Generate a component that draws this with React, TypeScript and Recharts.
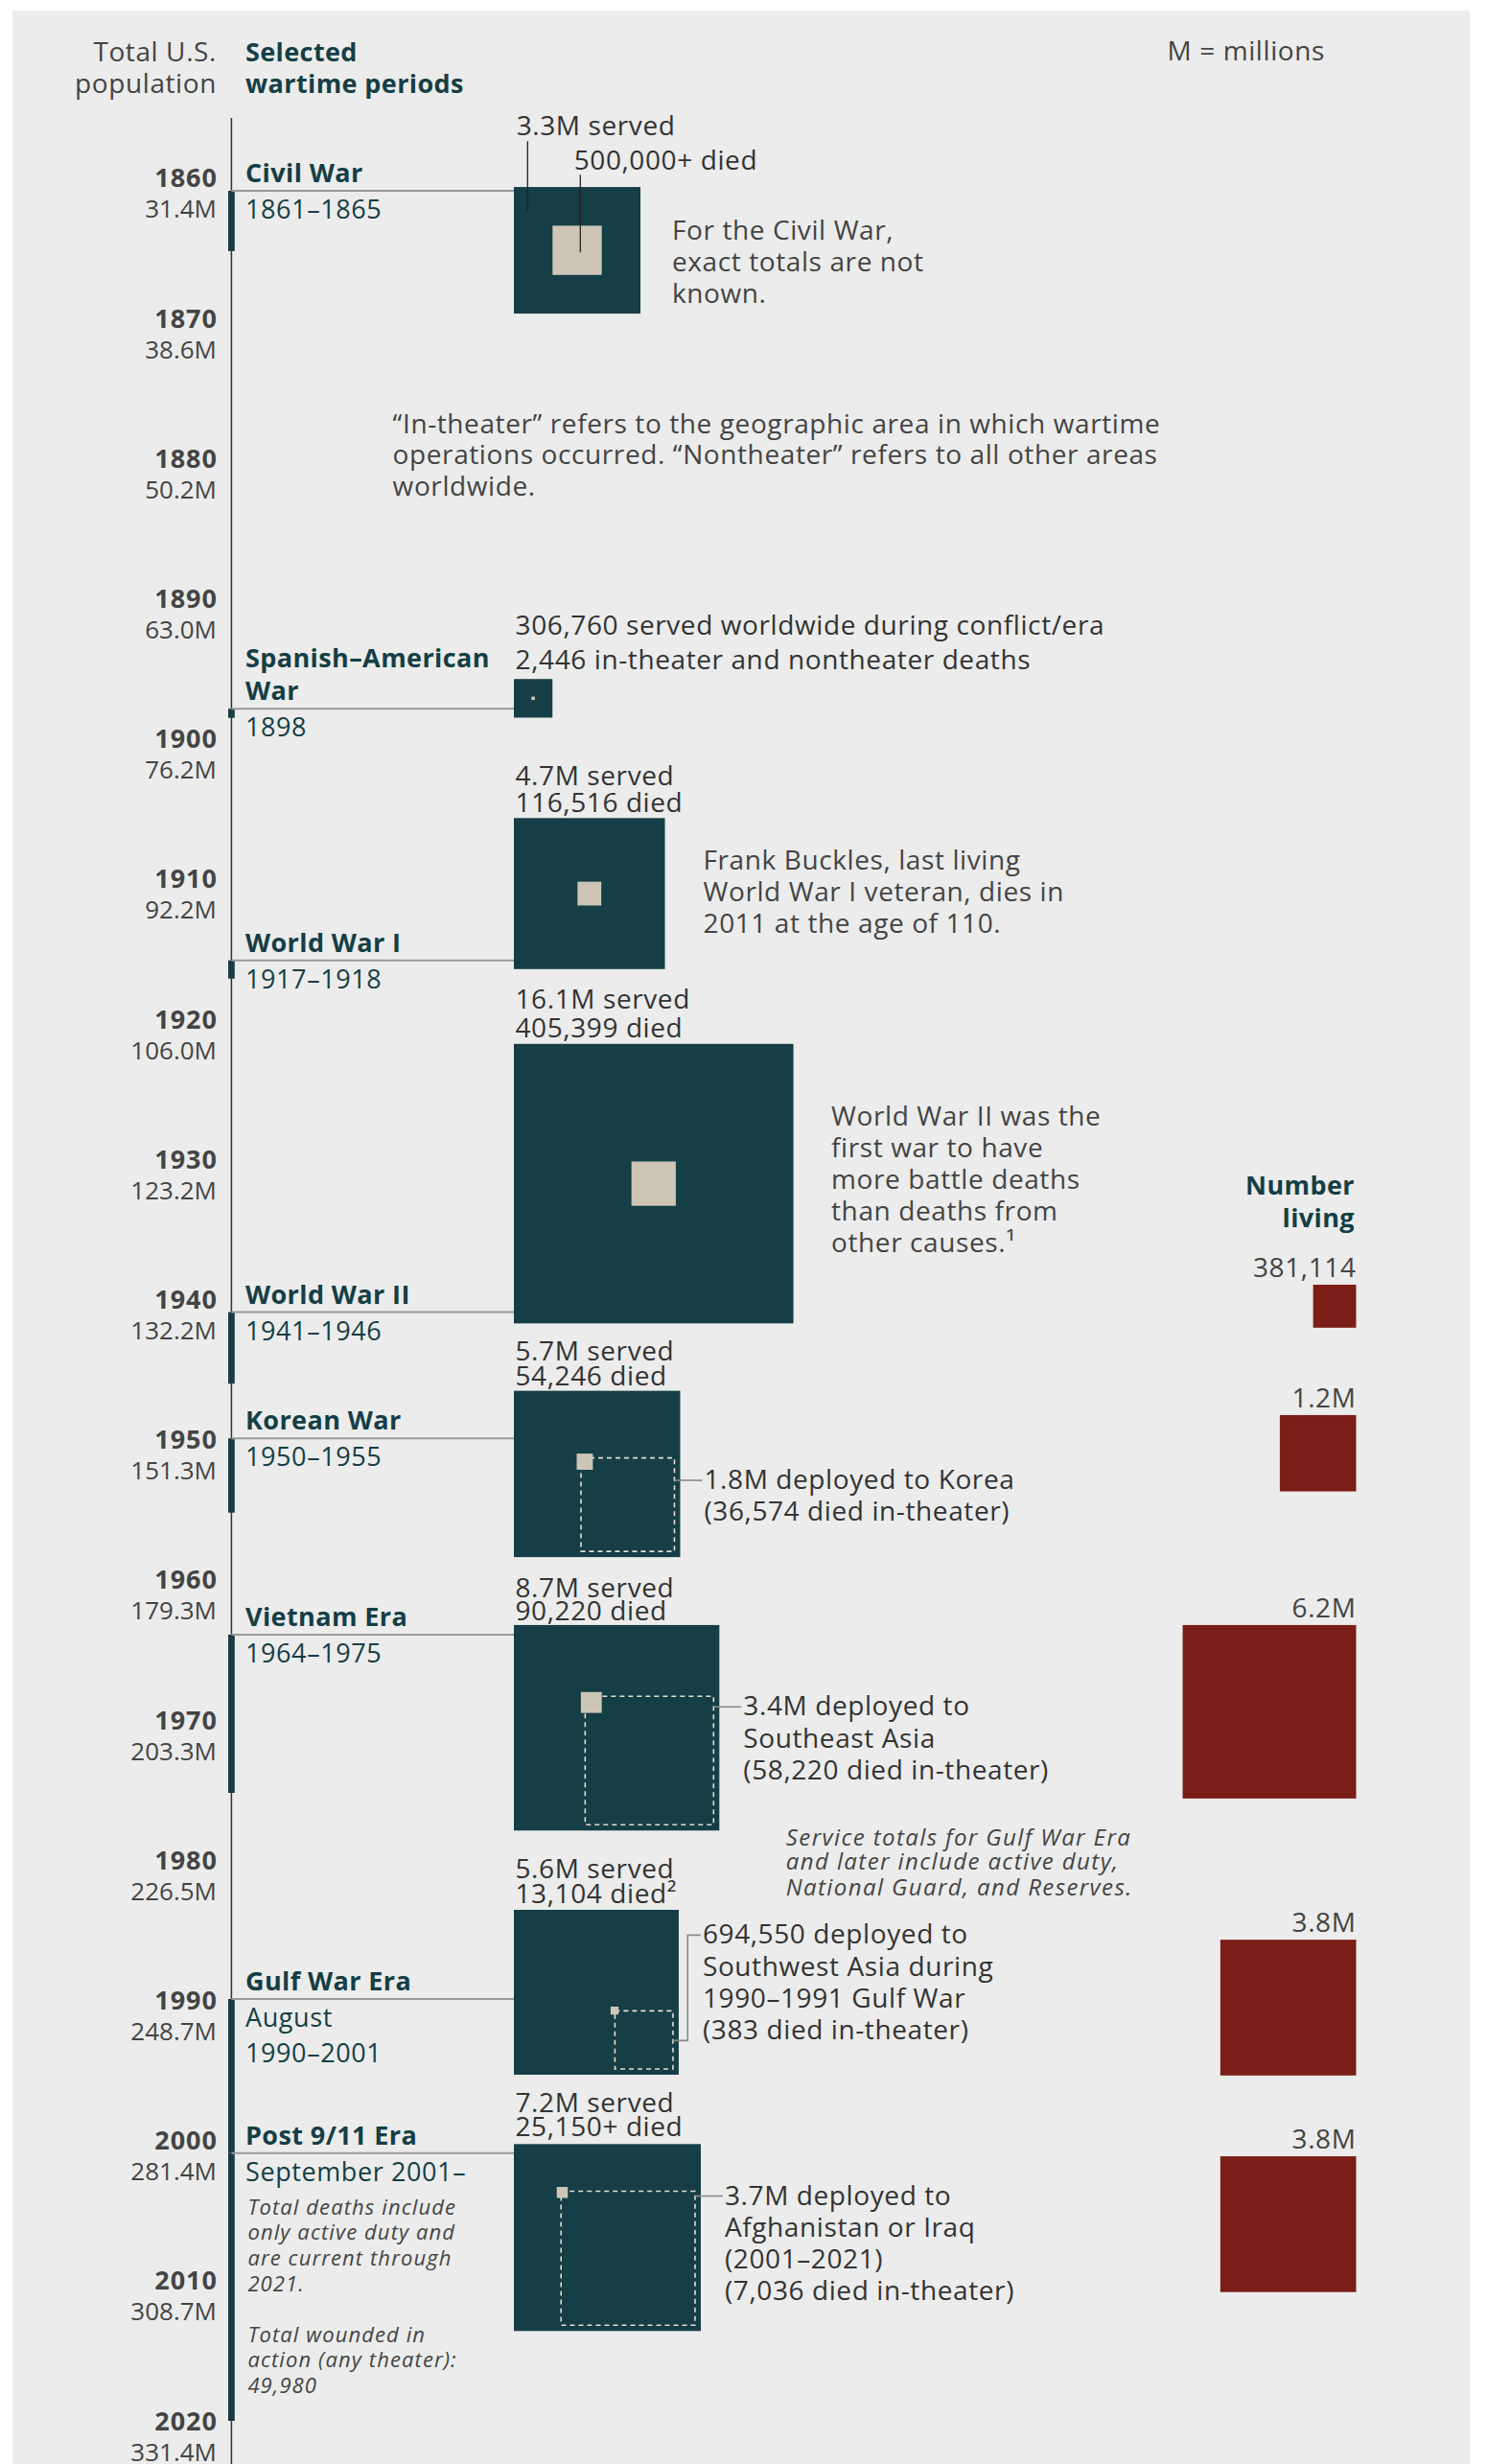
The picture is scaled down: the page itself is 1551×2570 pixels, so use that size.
import React from "react";
import {
    ComposedChart,
    XAxis,
    YAxis,
    Scatter,
    ReferenceLine,
    ReferenceArea
} from "recharts";

// decade ticks + total US population (millions)
const DECADES = [1860, 1870, 1880, 1890, 1900, 1910, 1920, 1930, 1940, 1950, 1960, 1970, 1980, 1990, 2000, 2010, 2020];
const POPULATION = [31.4, 38.6, 50.2, 63.0, 76.2, 92.2, 106.0, 123.2, 132.2, 151.3, 179.3, 203.3, 226.5, 248.7, 281.4, 308.7, 331.4];

// wartime periods
const WAR_NAMES = [["Civil War"], ["Spanish–American", "War"], ["World War I"], ["World War II"], ["Korean War"], ["Vietnam Era"], ["Gulf War Era"], ["Post 9/11 Era"]];
const WAR_PERIODS = [["1861–1865"], ["1898"], ["1917–1918"], ["1941–1946"], ["1950–1955"], ["1964–1975"], ["August", "1990–2001"], ["September 2001–"]];
const PERIOD_START = [1861, 1897.95, 1915.9, 1941, 1950, 1964, 1990, 2001];
const PERIOD_END = [1865.3, 1898.6, 1917.2, 1946.1, 1955.3, 1975.3, 2001, 2020.1];

// millions
const SERVED = [3.3, 0.30676, 4.7, 16.1, 5.7, 8.7, 5.6, 7.2];
const DIED = [0.5, 0.002446, 0.116516, 0.405399, 0.054246, 0.09022, 0.013104, 0.02515];
const DEPLOYED = [0, 0, 0, 0, 1.8, 3.4, 0.69455, 3.7];
const LIVING = [0, 0, 0, 0.381114, 1.2, 6.2, 3.8, 3.8];

const SERVED_TEXT = ["3.3M served", "306,760 served worldwide during conflict/era", "4.7M served", "16.1M served", "5.7M served", "8.7M served", "5.6M served", "7.2M served"];
const DIED_TEXT = ["500,000+ died", "2,446 in-theater and nontheater deaths", "116,516 died", "405,399 died", "54,246 died", "90,220 died", "13,104 died²", "25,150+ died"];
const DEPLOYED_TEXT = [
    [], [], [], [],
    ["1.8M deployed to Korea", "(36,574 died in-theater)"],
    ["3.4M deployed to", "Southeast Asia", "(58,220 died in-theater)"],
    ["694,550 deployed to", "Southwest Asia during", "1990–1991 Gulf War", "(383 died in-theater)"],
    ["3.7M deployed to", "Afghanistan or Iraq", "(2001–2021)", "(7,036 died in-theater)"]
];
const LIVING_TEXT = ["", "", "", "381,114", "1.2M", "6.2M", "3.8M", "3.8M"];
const BOX_NOTES = [
    ["For the Civil War,", "exact totals are not", "known."],
    [],
    ["Frank Buckles, last living", "World War I veteran, dies in", "2011 at the age of 110."],
    ["World War II was the", "first war to have", "more battle deaths", "than deaths from", "other causes.¹"],
    [], [], [], []
];
const PERIOD_NOTES = [
    [], [], [], [], [], [], [],
    ["Total deaths include", "only active duty and", "are current through", "2021.", "", "Total wounded in", "action (any theater):", "49,980"]
];

// ---- layout ----
const CHART_W = 1520;
const CHART_H = 2559;
const PX_PER_YEAR = 14.62;
const Y_TOP = 1860 - 173.4 / PX_PER_YEAR;
const Y_BOTTOM = Y_TOP + CHART_H / PX_PER_YEAR;
const AXIS_X = 228.4;
const BOX_X = 523;
const LIVING_RIGHT = 1401.5;
const SIDE_PER_SQRT_M = 72.66;
const INSET = 6;

// where each square's top edge sits, in axis (year) units
const BOX_TOP_AT = [1860.73, 1895.83, 1905.75, 1921.86, 1946.61, 1963.32, 1983.64, 2000.35];
const LIVING_TOP_AT = [0, 0, 0, 1939.04, 1948.34, 1963.32, 1985.77, 2001.22];
// [served label, died label] offsets from box top-left
const LABEL_POS = [
    [[2.7, -54.3], [62.7, -17.7]],
    [[1.6, -46.6], [1.6, -10.6]],
    [[1.5, -34], [1.5, -6]],
    [[1.5, -37], [1.5, -7]],
    [[1.5, -32], [1.5, -6]],
    [[1.5, -29], [1.5, -5]],
    [[1.5, -33], [1.5, -6.7]],
    [[1.5, -33.3], [1.5, -8.3]]
];
const DEPLOYED_DY = [0, 0, 0, 0, 32.4, 20, -70, 14];
const NOTE_POS = [[33, 54.7], [0, 0], [40, 53.8], [39.5, 85.4], [0, 0], [0, 0], [0, 0], [0, 0]];

const TEAL = "#153e46";
const BEIGE = "#cdc6b7";
const RED = "#7b1e17";
const BG = "#ebeceb";
const INK = "#333333";
const GREY = "#444444";
const FONT = "'Open Sans', 'Noto Sans', sans-serif";

const side = (m: number) => SIDE_PER_SQRT_M * Math.sqrt(m);

const T = ({ x, y, children, size = 28, weight = 400, fill = INK, anchor = "start", italic = false, spacing }: any) => {
    const ls = spacing !== undefined ? spacing : weight >= 700 ? 0.4 : 0.6;
    return (
        <text
            x={x}
            y={y}
            fontSize={size}
            fontWeight={weight}
            fill={fill}
            textAnchor={anchor}
            fontStyle={italic ? "italic" : "normal"}
            fontFamily={FONT}
            letterSpacing={ls}
        >
            {children}
        </text>
    );
};

const YearTick = (props: any) => {
    const { y, payload } = props;
    const k = DECADES.indexOf(payload.value);
    return (
        <g>
            <T x={214} y={y + 11} size={27} weight={700} fill={GREY} anchor="end" spacing={1}>{payload.value}</T>
            <T x={213} y={y + 43} size={26} fill={GREY} anchor="end" spacing={0}>{POPULATION[k].toFixed(1) + "M"}</T>
        </g>
    );
};

const WarLabel = (props: any) => {
    const { cx, cy, payload } = props;
    const i = payload.i;
    const x = cx + 14.6;
    const names = WAR_NAMES[i];
    return (
        <g>
            {names.map((n, k) => (
                <T key={"n" + k} x={x} y={cy - 9 - (names.length - 1 - k) * 34} size={27} weight={700} fill={TEAL}>{n}</T>
            ))}
            {WAR_PERIODS[i].map((p, k) => (
                <T key={"p" + k} x={x} y={cy + 29 + k * 37} size={27} fill={TEAL}>{p}</T>
            ))}
            {PERIOD_NOTES[i].map((p, k) => (
                <T key={"q" + k} x={x + 2.4} y={cy + 64 + k * 26.6} size={22} fill={GREY} italic spacing={1.1}>{p}</T>
            ))}
        </g>
    );
};

const ServiceBox = (props: any) => {
    const { cx, cy, payload } = props;
    const i = payload.i;
    const s = side(SERVED[i]);
    const d = side(DIED[i]);
    const right = cx + s;
    const [[sx, sy], [dx0, dy0]] = LABEL_POS[i];
    let inner: any = null;

    if (DEPLOYED[i] > 0) {
        const ds = side(DEPLOYED[i]);
        const px = right - INSET - ds;
        const py = cy + s - INSET - ds;
        const tx = right + 25;
        const ty = py + DEPLOYED_DY[i];
        const lines = DEPLOYED_TEXT[i];
        const lead = i === 6
            ? `M${px + ds},${py + 31} H${right + 9.3} V${ty - 9} H${tx - 2}`
            : `M${px + ds},${ty - 9} H${tx - 2}`;
        inner = (
            <g>
                <rect x={px} y={py} width={ds} height={ds} fill="none" stroke="#e4ddcc" strokeWidth={1.6} strokeDasharray="5 4" />
                <rect x={px - 4.5} y={py - 4.5} width={d} height={d} fill={BEIGE} />
                <path d={lead} fill="none" stroke="#8a8a8a" strokeWidth={1.6} />
                {lines.map((l, k) => (
                    <T key={k} x={tx} y={ty + k * 33.3}>{l}</T>
                ))}
            </g>
        );
    } else {
        inner = <rect x={cx + (s - d) / 2} y={cy + (s - d) / 2} width={d} height={d} fill={BEIGE} />;
    }

    const [nx, ny] = NOTE_POS[i];
    return (
        <g>
            <rect x={cx} y={cy} width={s} height={s} fill={TEAL} />
            {inner}
            {i === 0 && (
                <g stroke="#222" strokeWidth={1.3}>
                    <line x1={cx + 14.3} y1={cy - 47.7} x2={cx + 14.3} y2={cy + 25.7} />
                    <line x1={cx + 69.3} y1={cy - 12.7} x2={cx + 69.3} y2={cy + 68.3} />
                </g>
            )}
            <T x={cx + sx} y={cy + sy}>{SERVED_TEXT[i]}</T>
            <T x={cx + dx0} y={cy + dy0}>{DIED_TEXT[i]}</T>
            {BOX_NOTES[i].map((l, k) => (
                <T key={k} x={right + nx} y={cy + ny + k * 33} fill={GREY}>{l}</T>
            ))}
        </g>
    );
};

const LivingBox = (props: any) => {
    const { cx, cy, payload } = props;
    const i = payload.i;
    const s = side(LIVING[i]);
    return (
        <g>
            <rect x={cx - s} y={cy} width={s} height={s} fill={RED} />
            <T x={cx} y={cy - 8} fill={GREY} anchor="end">{LIVING_TEXT[i]}</T>
        </g>
    );
};

const boxRows = SERVED.map((_, i) => ({ x: BOX_X, y: BOX_TOP_AT[i], i }));
const labelRows = PERIOD_START.map((start, i) => ({ x: AXIS_X, y: start, i }));
const livingRows = LIVING.map((v, i) => ({ x: LIVING_RIGHT, y: LIVING_TOP_AT[i], i })).filter((r) => LIVING[r.i] > 0);

const App = () => {
    return (
        <div style={{ paddingTop: 3, paddingLeft: 5 }}>
            <div style={{ position: "relative", width: CHART_W, height: CHART_H, background: BG }}>
                <ComposedChart
                    width={CHART_W}
                    height={CHART_H}
                    margin={{ top: 0, right: 0, bottom: 0, left: 0 }}
                >
                    <XAxis type="number" dataKey="x" domain={[0, CHART_W]} hide allowDataOverflow />
                    <YAxis
                        type="number"
                        dataKey="y"
                        domain={[Y_TOP, Y_BOTTOM]}
                        reversed
                        allowDataOverflow
                        ticks={DECADES}
                        interval={0}
                        mirror
                        width={60}
                        axisLine={false}
                        tickLine={false}
                        tick={<YearTick />}
                    />
                    <ReferenceLine
                        segment={[{ x: AXIS_X, y: Y_TOP + 112 / PX_PER_YEAR }, { x: AXIS_X, y: Y_BOTTOM }]}
                        stroke="#333"
                        strokeWidth={1.5}
                        ifOverflow="visible"
                    />
                    {PERIOD_START.map((start, i) => (
                        <ReferenceLine
                            key={"c" + i}
                            segment={[{ x: AXIS_X, y: start }, { x: BOX_X, y: start }]}
                            stroke="#9a9a9a"
                            strokeWidth={2}
                        />
                    ))}
                    {PERIOD_START.map((start, i) => (
                        <ReferenceArea
                            key={"b" + i}
                            x1={AXIS_X - 3.4}
                            x2={AXIS_X + 3.4}
                            y1={start}
                            y2={PERIOD_END[i]}
                            fill={TEAL}
                            fillOpacity={1}
                            stroke="none"
                        />
                    ))}
                    <Scatter data={labelRows} shape={WarLabel} isAnimationActive={false} />
                    <Scatter data={boxRows} shape={ServiceBox} isAnimationActive={false} />
                    <Scatter data={livingRows} shape={LivingBox} isAnimationActive={false} />
                </ComposedChart>
                <svg
                    width={CHART_W}
                    height={CHART_H}
                    style={{ position: "absolute", left: 0, top: 0, pointerEvents: "none" }}
                >
                    <T x={213} y={53} fill={GREY} anchor="end">Total U.S.</T>
                    <T x={213} y={85.7} fill={GREY} anchor="end">population</T>
                    <T x={243} y={53} size={27} weight={700} fill={TEAL}>Selected</T>
                    <T x={243} y={85.7} size={27} weight={700} fill={TEAL}>wartime periods</T>
                    <T x={1369} y={52} fill={GREY} anchor="end">M = millions</T>
                    <T x={1400} y={1235} size={27} weight={700} fill={TEAL} anchor="end">Number</T>
                    <T x={1400} y={1269} size={27} weight={700} fill={TEAL} anchor="end">living</T>
                    <T x={396.6} y={440.5} fill={GREY}>“In-theater” refers to the geographic area in which wartime</T>
                    <T x={396.6} y={473.4} fill={GREY}>operations occurred. “Nontheater” refers to all other areas</T>
                    <T x={396.6} y={506.3} fill={GREY}>worldwide.</T>
                    <T x={806.8} y={1913.7} size={24} fill={GREY} italic spacing={1.4}>Service totals for Gulf War Era</T>
                    <T x={806.8} y={1939.3} size={24} fill={GREY} italic spacing={1.4}>and later include active duty,</T>
                    <T x={806.8} y={1966} size={24} fill={GREY} italic spacing={1.4}>National Guard, and Reserves.</T>
                </svg>
            </div>
        </div>
    );
};

export default App;
